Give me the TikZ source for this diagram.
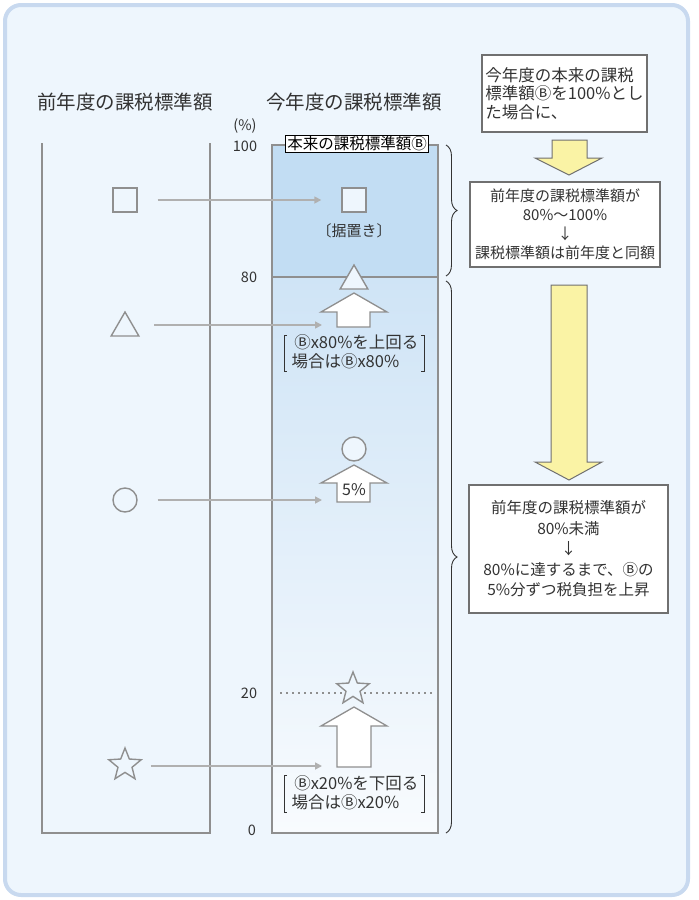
\documentclass[tikz,border=0pt]{standalone}
\usepackage{fontspec}
\setmainfont{Noto Sans CJK JP}
\usetikzlibrary{shapes.geometric,decorations.pathreplacing,arrows.meta}
\definecolor{bgblue}{HTML}{EEF6FD}
\definecolor{frameblue}{HTML}{C8D9EF}
\definecolor{bluetop}{HTML}{C2DDF3}
\definecolor{bluegrad}{HTML}{CFE4F6}
\definecolor{bluelow}{HTML}{F8FBFE}
\definecolor{colgray}{HTML}{8F8F8F}
\definecolor{conngray}{HTML}{B0B0B0}
\definecolor{ylw}{HTML}{FAF3A5}
\definecolor{txt}{HTML}{333333}
\definecolor{boxline}{HTML}{707070}
\begin{document}
\begin{tikzpicture}[x=1pt,y=-1pt,
  title/.style={font=\fontsize{19.5}{22}\selectfont, text=txt, inner sep=0pt},
  axis/.style={font=\fontsize{14.5}{16}\selectfont, text=txt, inner sep=0pt},
  colline/.style={draw=colgray, line width=1.6pt},
  sym/.style={draw=colgray, line width=1.4pt, fill=bgblue, inner sep=0pt},
  sqsym/.style={sym, rectangle, minimum size=24pt},
  trisym/.style={sym, regular polygon, regular polygon sides=3, minimum size=32pt},
  cirsym/.style={sym, circle, minimum size=24pt},
  starsym/.style={sym, star, star points=5, star point ratio=2.3, minimum size=34pt},
  conn/.style={draw=conngray, line width=1.6pt, -{Triangle[length=7pt,width=7pt]}},
  uparr/.style={draw=colgray, line width=1.3pt, fill=white, line join=miter},
  yarr/.style={draw=boxline, line width=1pt, fill=ylw},
  infobox/.style={draw=boxline, line width=1.2pt, fill=white, text=txt, font=\fontsize{15}{19}\selectfont, inner sep=0pt},
  midtext/.style={font=\fontsize{15}{19}\selectfont, text=txt, inner sep=0pt},
  brk/.style={draw=txt, line width=0.8pt},
  brc/.style={draw=txt, line width=0.9pt, decorate, decoration={brace, amplitude=11pt}}
]
\useasboundingbox (0,0) rectangle (699,900);
% outer frame
\draw[line width=4pt, draw=frameblue, fill=bgblue, rounded corners=16pt] (5,5) rectangle (688,895);

% titles
\node[title] (t1) at (125,102) {前年度の課税標準額};
\node[title] (t2) at (354,102) {今年度の課税標準額};

% left column
\draw[colline] (42,143) -- (42,833) -- (210,833) -- (210,143);

% middle column
\fill[bluetop] (272,145) rectangle (438,277);
\shade[top color=bluegrad, bottom color=bluelow] (272,277) rectangle (438,833);
\draw[colline] (272,145) rectangle (438,833);
\draw[colline] (272,277) -- (438,277);
\draw[colgray, line width=1.3pt, dash pattern=on 1.5pt off 4.5pt] (280,693) -- (435,693);

% axis labels
\node[axis] (pct) at (245,126) {(\%)};
\node[axis] (a100) at (245,146) {100};
\node[axis] (a80) at (249,277) {80};
\node[axis] (a20) at (249,693) {20};
\node[axis] (a0) at (252,830) {0};

\node[draw=black, line width=0.8pt, fill=white, inner sep=1.5pt, font=\fontsize{15.5}{17}\selectfont, text=black] (lbl) at (357,144) {本来の課税標準額Ⓑ};

% left symbols
\node[sqsym] (sqL) at (125,200) {};
\node[trisym] (triL) at (125,328) {};
\node[cirsym] (cirL) at (125,500) {};
\node[starsym] (starL) at (125,765) {};

% middle symbols
\node[sqsym] (sqM) at (354,200) {};
\node[midtext] (sue) at (354,231) {〔据置き〕};
\node[trisym] (triM) at (354,281) {};
\node[cirsym] (cirM) at (354,449) {};
\node[starsym] (starM) at (353,689) {};

% up block arrows
\draw[uparr] (354,293) -- (387,312) -- (370,312) -- (370,327) -- (337,327) -- (337,312) -- (321,312) -- cycle;
\draw[uparr] (354,465) -- (387,483) -- (370,483) -- (370,502) -- (337,502) -- (337,483) -- (321,483) -- cycle;
\node[midtext, font=\fontsize{16}{19}\selectfont] (five) at (354,490) {5\%};
\draw[uparr] (354,707) -- (387,726) -- (371,726) -- (371,767) -- (337,767) -- (337,726) -- (321,726) -- cycle;

% bracket texts
\node[midtext, align=left, font=\fontsize{16.5}{19}\selectfont] (b80) at (355,352) {\,Ⓑx80\%を上回る\\場合はⒷx80\%};
\draw[brk] (287,335) -- (284,335) -- (284,371) -- (287,371);
\draw[brk] (421,335) -- (424,335) -- (424,371) -- (421,371);
\node[midtext, align=left, font=\fontsize{16.5}{19}\selectfont] (b20) at (355,793) {\,Ⓑx20\%を下回る\\場合はⒷx20\%};
\draw[brk] (287,775) -- (284,775) -- (284,812) -- (287,812);
\draw[brk] (421,775) -- (424,775) -- (424,812) -- (421,812);

% connectors
\coordinate (e80) at (322,325);
\coordinate (e5) at (322,500);
\coordinate (e20) at (322,766);
\draw[conn, shorten <=20pt, shorten >=20pt] (sqL.east) -- (sqM.west);
\draw[conn, shorten <=19pt] (triL.east |- e80) -- (e80);
\draw[conn, shorten <=20pt] (cirL.east) -- (e5);
\draw[conn, shorten <=15pt] (starL.east |- e20) -- (e20);

% braces
\draw[brc] (446,145) -- (446,276);
\draw[brc] (446,281) -- (446,833);

% right boxes
\node[infobox, minimum width=165pt, minimum height=77pt, align=left, font=\fontsize{16.5}{18.5}\selectfont] (box1) at (564.5,93.5)
  {今年度の本来の課税\\標準額Ⓑを100\%とし\\た場合に、};
\node[infobox, minimum width=190pt, minimum height=85pt, align=center] (box2) at (565,224.5)
  {前年度の課税標準額が\\80\%～100\%\\↓\\課税標準額は前年度と同額};
\node[infobox, minimum width=199pt, minimum height=128pt, align=center, font=\fontsize{15.5}{20.5}\selectfont] (box3) at (568.5,549)
  {前年度の課税標準額が\\80\%未満\\↓\\80\%に達するまで、Ⓑの\\5\%分ずつ税負担を上昇};

% yellow arrows
\draw[yarr] (552,140) -- (587,140) -- (587,158) -- (602,158) -- (569,175) -- (535,158) -- (552,158) -- cycle;
\draw[yarr] (551,285) -- (587,285) -- (587,462) -- (602,462) -- (569,480) -- (535,462) -- (551,462) -- cycle;
\end{tikzpicture}
\end{document}
